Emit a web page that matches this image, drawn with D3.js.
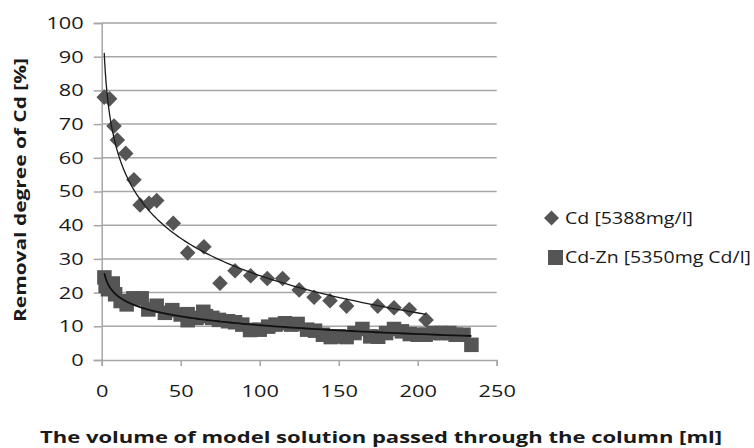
<!DOCTYPE html>
<html>
<head>
<meta charset="utf-8">
<script src="https://cdn.jsdelivr.net/npm/d3@7/dist/d3.min.js"></script>
<style>
  html, body { margin: 0; padding: 0; background: #fff; }
  svg { display: block; font-family: "Open Sans", "Liberation Sans", sans-serif; }
</style>
</head>
<body>
<svg id="chart" width="754" height="448"></svg>
<script>
// ---- data ----
const cdX = [1.6, 5, 7.8, 9.9, 15.2, 20.4, 24.3, 30, 34.8, 45.3, 54.4, 64.7, 74.9, 84.4, 94.3, 104.8, 114.5, 125, 134.4, 144.5, 155, 174.7, 185, 194.7, 205.3];
const cdY = [78, 77.5, 69.4, 65.3, 61.3, 53.5, 46, 46.5, 47.3, 40.6, 31.8, 33.6, 22.8, 26.5, 25, 24.2, 24.2, 20.8, 18.6, 17.6, 16, 16, 15.5, 15, 11.9];
const znX = [1.7, 2.5, 4, 7, 8.5, 12, 15.8, 20, 25.3, 29.5, 34.8, 40, 44.7, 50, 54.4, 54.4, 60, 64.3, 66, 70, 74.2, 80, 84.4, 89, 93.9, 100, 105.4, 110, 116, 120, 124, 130, 135, 140, 145, 150, 155, 160, 165, 170, 175, 180, 185, 190, 195, 200, 205, 210, 215, 220, 224, 229, 234];
const znY = [24.5, 22, 21, 22.7, 19.5, 17.5, 16.5, 18.3, 18.3, 15, 16.1, 14, 14.8, 13.5, 13.6, 11.8, 12.5, 14.3, 13, 12.5, 11.9, 11.5, 11.2, 10.5, 8.9, 9, 9.9, 10.5, 10.9, 10.5, 10.7, 9, 8.7, 7.5, 6.8, 7, 6.8, 8, 9.2, 7, 6.9, 8, 9.2, 8.5, 7.7, 7.5, 7.5, 8, 8, 8, 7.5, 7.5, 4.5];
const xTicks = [0, 50, 100, 150, 200, 250];
const yTicks = [0, 10, 20, 30, 40, 50, 60, 70, 80, 90, 100];
const seriesNames = ["Cd [5388mg/l]", "Cd-Zn [5350mg Cd/l]"];
const xTitle = "The volume of model solution passed through the column [ml]";
const yTitle = "Removal degree of Cd [%]";

// ---- layout ----
const svg = d3.select("#chart");
const L = 101.7, R = 496.7, T = 23, B = 360;
const x = d3.scaleLinear().domain([0, 250]).range([L, R]);
const y = d3.scaleLinear().domain([0, 100]).range([B, T]);
const markColor = "#555555";
const gridColor = "#a6a6a6";
const textColor = "#1a1a1a";

function stretch(sel, factor) {
  sel.each(function () {
    const w = this.getComputedTextLength();
    d3.select(this).attr("textLength", w * factor).attr("lengthAdjust", "spacingAndGlyphs");
  });
}

// gridlines
svg.append("g").selectAll("line").data(yTicks.filter(d => d > 0)).join("line")
  .attr("x1", L).attr("x2", R).attr("y1", d => y(d)).attr("y2", d => y(d))
  .attr("stroke", gridColor).attr("stroke-width", 1.5);

// y axis
const yAxis = svg.append("g").attr("transform", `translate(${L},0)`)
  .call(d3.axisLeft(y).tickValues(yTicks).tickSize(8).tickPadding(10));
// x axis
const xAxis = svg.append("g").attr("transform", `translate(0,${B})`)
  .call(d3.axisBottom(x).tickValues(xTicks).tickSize(6).tickPadding(19));
[yAxis, xAxis].forEach(g => {
  g.select(".domain").attr("stroke", gridColor).attr("stroke-width", 1.5);
  g.selectAll(".tick line").attr("stroke", gridColor).attr("stroke-width", 1.5);
  g.selectAll(".tick text").attr("fill", textColor).style("font-size", "17px")
    .style("font-family", "'Open Sans', sans-serif");
  stretch(g.selectAll(".tick text"), 1.28);
});

// log trendline (least squares on ln x)
function logFit(xs, ys) {
  const lx = xs.map(Math.log);
  const mx = d3.mean(lx), my = d3.mean(ys);
  let sxy = 0, sxx = 0;
  lx.forEach((v, i) => { sxy += (v - mx) * (ys[i] - my); sxx += (v - mx) * (v - mx); });
  const b = sxy / sxx, a = my - b * mx;
  return t => a + b * Math.log(t);
}
function trend(xs, ys) {
  const f = logFit(xs, ys);
  const [x0, x1] = d3.extent(xs);
  const pts = d3.range(0, 201).map(i => {
    const t = x0 * Math.pow(x1 / x0, i / 200);
    return [t, f(t)];
  });
  return d3.line().x(d => x(d[0])).y(d => y(d[1]))(pts);
}

// Cd-Zn squares
const sq = 14.5;
svg.append("g").selectAll("rect").data(znX.map((d, i) => [d, znY[i]])).join("rect")
  .attr("x", d => x(d[0]) - sq / 2).attr("y", d => y(d[1]) - sq / 2)
  .attr("width", sq).attr("height", sq).attr("fill", markColor);

// Cd diamonds
const dh = 7.8;
svg.append("g").selectAll("path").data(cdX.map((d, i) => [d, cdY[i]])).join("path")
  .attr("d", d => {
    const cx = x(d[0]), cy = y(d[1]);
    return `M${cx},${cy - dh}L${cx + dh},${cy}L${cx},${cy + dh}L${cx - dh},${cy}Z`;
  })
  .attr("fill", markColor);

// trendlines
svg.append("path").attr("d", trend(cdX, cdY)).attr("fill", "none")
  .attr("stroke", "#1a1a1a").attr("stroke-width", 1.3);
svg.append("path").attr("d", trend(znX, znY)).attr("fill", "none")
  .attr("stroke", "#111").attr("stroke-width", 1.8);

// legend
const lg = svg.append("g");
lg.append("path").attr("d", `M551.5,210.5L559,218L551.5,225.5L544,218Z`).attr("fill", markColor);
lg.append("rect").attr("x", 548).attr("y", 250).attr("width", 15).attr("height", 15).attr("fill", markColor);
lg.append("text").attr("x", 565).attr("y", 218).attr("dy", "0.35em").text(seriesNames[0])
  .style("font-size", "17px").attr("fill", textColor)
  .attr("textLength", 128).attr("lengthAdjust", "spacingAndGlyphs");
lg.append("text").attr("x", 565).attr("y", 257.5).attr("dy", "0.35em").text(seriesNames[1])
  .style("font-size", "17px").attr("fill", textColor)
  .attr("textLength", 186).attr("lengthAdjust", "spacingAndGlyphs");

// axis titles
svg.append("text").attr("x", 381).attr("y", 437).attr("dy", "0.35em").attr("text-anchor", "middle")
  .style("font-size", "16px").style("font-weight", "bold").attr("fill", textColor)
  .attr("textLength", 682).attr("lengthAdjust", "spacingAndGlyphs")
  .text(xTitle);
svg.append("text").attr("transform", "translate(20,190) rotate(-90)").attr("dy", "0.35em")
  .attr("text-anchor", "middle").style("font-size", "16px").style("font-weight", "bold")
  .attr("textLength", 264).attr("lengthAdjust", "spacingAndGlyphs")
  .attr("fill", textColor).text(yTitle);
</script>
</body>
</html>
